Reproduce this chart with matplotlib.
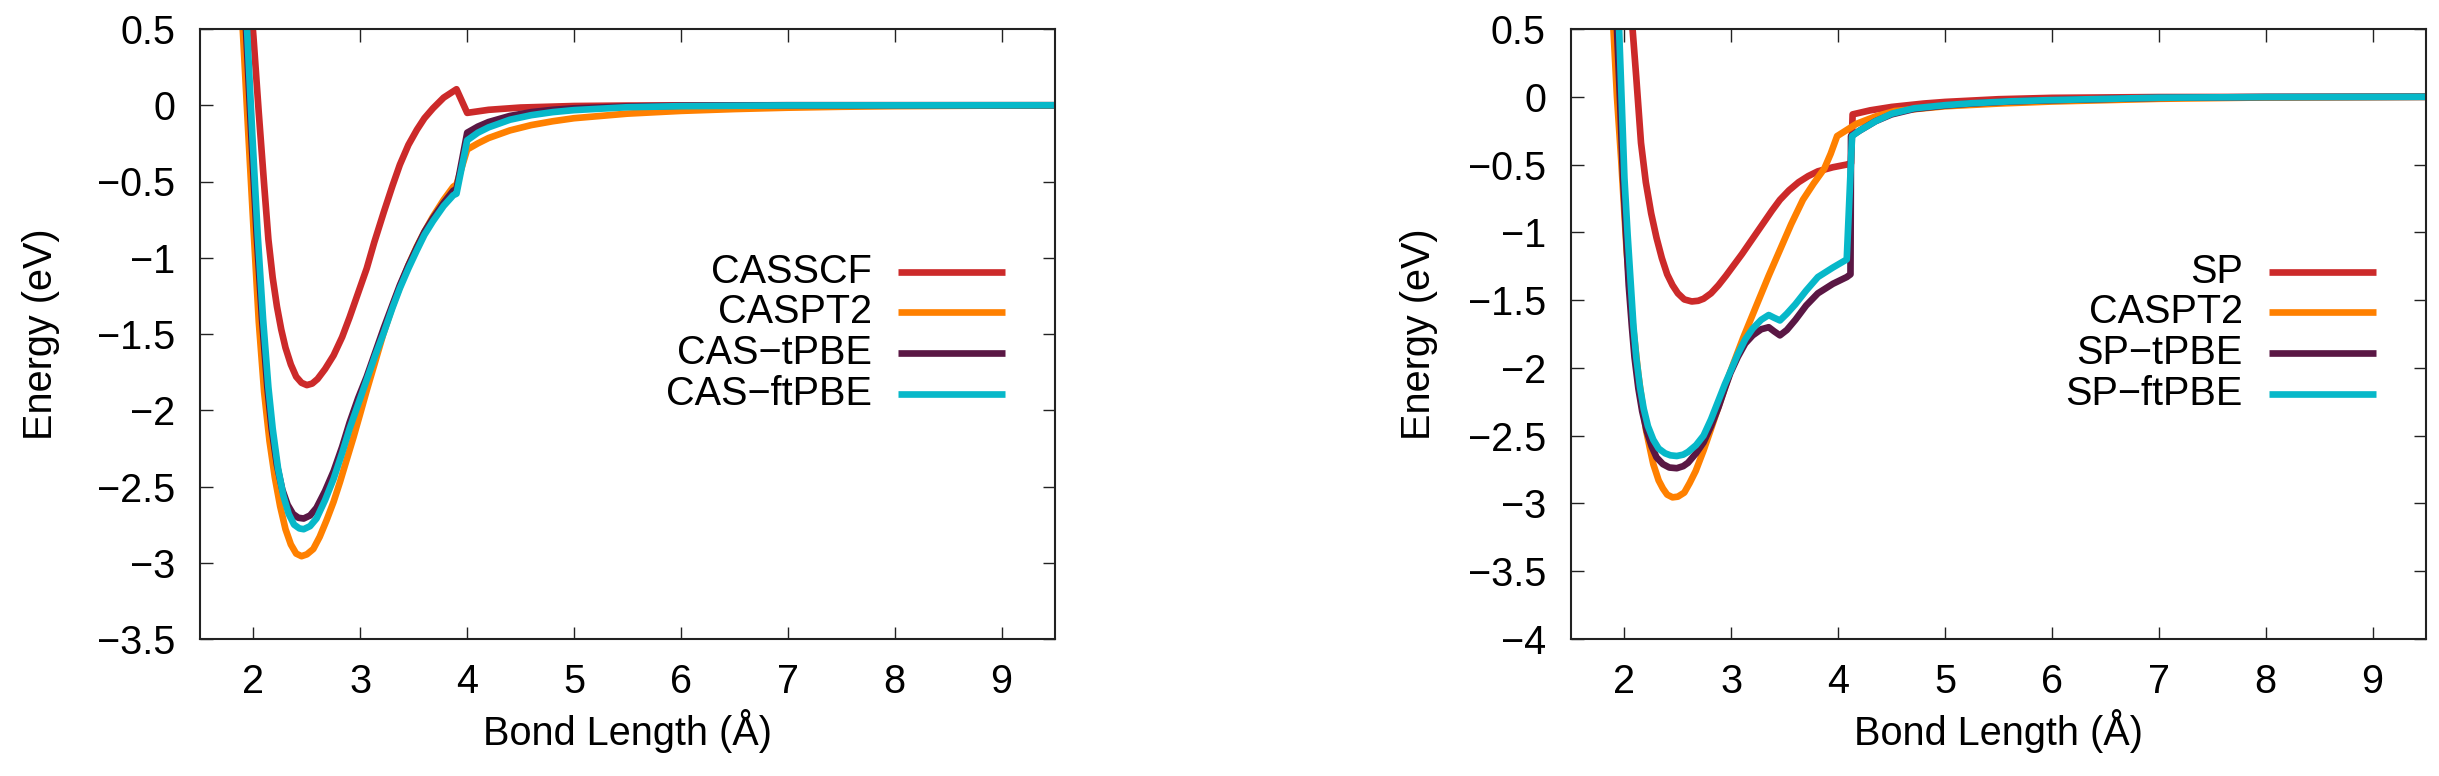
import matplotlib
matplotlib.use('Agg')
import matplotlib.pyplot as plt

plt.rcParams['font.family'] = ['Liberation Sans', 'DejaVu Sans']

# --- left panel: CAS based curves ---
casscf_x = [1.96, 2.0, 2.05, 2.1, 2.14, 2.18, 2.22, 2.26, 2.3, 2.35, 2.4, 2.45, 2.5, 2.55, 2.6,
            2.67, 2.75, 2.83, 2.9, 3.0, 3.06, 3.13, 3.22, 3.3, 3.37, 3.45, 3.53, 3.6, 3.68, 3.78,
            3.9, 4.0, 4.2, 4.5, 5.0, 5.5, 6.0, 7.0, 8.0, 9.0, 9.6]
casscf_y = [0.8, 0.45, -0.05, -0.52, -0.88, -1.13, -1.32, -1.47, -1.59, -1.70, -1.78, -1.82,
            -1.835, -1.825, -1.795, -1.73, -1.64, -1.52, -1.39, -1.19, -1.07, -0.90, -0.70,
            -0.53, -0.39, -0.26, -0.16, -0.085, -0.02, 0.05, 0.105, -0.05, -0.03, -0.015,
            -0.005, -0.002, -0.001, 0, 0, 0, 0]

caspt2_l_x = [1.88, 1.9, 1.95, 2.0, 2.05, 2.1, 2.15, 2.2, 2.25, 2.3, 2.35, 2.4, 2.45, 2.5, 2.56,
              2.62, 2.685, 2.75, 2.81, 2.87, 2.935, 3.0, 3.06, 3.14, 3.215, 3.3, 3.37, 3.45,
              3.527, 3.6, 3.68, 3.78, 3.87, 3.9, 4.0, 4.1, 4.2, 4.4, 4.6, 4.8, 5.0, 5.5, 6.0,
              6.5, 7.0, 7.5, 8.0, 9.0, 9.6]
caspt2_l_y = [1.0, 0.5, -0.16, -0.8, -1.42, -1.88, -2.2, -2.44, -2.63, -2.78, -2.88, -2.94,
              -2.957, -2.945, -2.91, -2.83, -2.72, -2.6, -2.47, -2.33, -2.18, -2.02, -1.87,
              -1.68, -1.50, -1.32, -1.19, -1.05, -0.93, -0.83, -0.73, -0.62, -0.534, -0.52,
              -0.29, -0.25, -0.215, -0.165, -0.13, -0.105, -0.085, -0.055, -0.037, -0.025,
              -0.016, -0.01, -0.006, -0.002, -0.001]

cas_tpbe_x = [1.91, 1.93, 1.98, 2.03, 2.08, 2.13, 2.17, 2.22, 2.27, 2.32, 2.37, 2.42, 2.47, 2.53,
              2.59, 2.67, 2.75, 2.83, 2.9, 2.98, 3.06, 3.14, 3.22, 3.3, 3.37, 3.45, 3.53, 3.6,
              3.68, 3.78, 3.87, 3.9, 4.0, 4.1, 4.2, 4.4, 4.6, 4.8, 5.0, 5.5, 6.0, 7.0, 9.6]
cas_tpbe_y = [1.0, 0.5, -0.2, -0.85, -1.4, -1.85, -2.12, -2.36, -2.52, -2.62, -2.68, -2.705,
              -2.71, -2.69, -2.64, -2.53, -2.40, -2.24, -2.08, -1.92, -1.78, -1.62, -1.46,
              -1.31, -1.18, -1.05, -0.93, -0.83, -0.74, -0.64, -0.56, -0.55, -0.18, -0.14,
              -0.11, -0.07, -0.045, -0.03, -0.02, -0.008, -0.003, 0, 0]

cas_ftpbe_x = [1.92, 1.94, 1.99, 2.04, 2.09, 2.14, 2.18, 2.23, 2.28, 2.33, 2.38, 2.43, 2.47, 2.53,
               2.59, 2.67, 2.75, 2.83, 2.9, 2.98, 3.06, 3.14, 3.22, 3.3, 3.37, 3.45, 3.53, 3.6,
               3.68, 3.78, 3.87, 3.9, 4.0, 4.1, 4.2, 4.4, 4.6, 4.8, 5.0, 5.5, 6.0, 7.0, 9.6]
cas_ftpbe_y = [1.0, 0.5, -0.2, -0.85, -1.4, -1.85, -2.12, -2.38, -2.56, -2.68, -2.75, -2.775,
               -2.78, -2.76, -2.71, -2.59, -2.45, -2.28, -2.12, -1.96, -1.80, -1.64, -1.49,
               -1.33, -1.20, -1.07, -0.95, -0.85, -0.76, -0.66, -0.59, -0.58, -0.23, -0.18,
               -0.145, -0.095, -0.065, -0.045, -0.032, -0.013, -0.006, -0.001, 0]

# --- right panel: SP based curves ---
sp_x = [2.06, 2.076, 2.11, 2.155, 2.2, 2.25, 2.3, 2.35, 2.4, 2.45, 2.5, 2.56, 2.63, 2.69, 2.74,
        2.81, 2.88, 2.95, 3.025, 3.1, 3.17, 3.24, 3.31, 3.38, 3.455, 3.54, 3.63, 3.72, 3.81,
        3.95, 4.08, 4.12, 4.135, 4.3, 4.5, 4.8, 5.0, 5.5, 6.0, 7.0, 9.6]
sp_y = [0.9, 0.5, 0.15, -0.34, -0.63, -0.86, -1.04, -1.19, -1.31, -1.39, -1.45, -1.495, -1.51,
        -1.505, -1.49, -1.45, -1.39, -1.32, -1.24, -1.16, -1.08, -1.0, -0.92, -0.84, -0.76,
        -0.69, -0.63, -0.585, -0.55, -0.52, -0.50, -0.49, -0.13, -0.1, -0.075, -0.05, -0.038,
        -0.018, -0.008, -0.002, 0]

caspt2_r_x = [1.88, 1.897, 1.93, 1.97, 2.02, 2.076, 2.13, 2.17, 2.2, 2.24, 2.27, 2.32, 2.36, 2.4,
              2.45, 2.5, 2.56, 2.61, 2.667, 2.74, 2.81, 2.9, 2.99, 3.11, 3.24, 3.35, 3.455, 3.56,
              3.67, 3.77, 3.87, 3.93, 3.99, 4.17, 4.35, 4.53, 5.0, 5.5, 6.0, 7.0, 8.0, 9.6]
caspt2_r_y = [1.0, 0.5, 0.0, -0.47, -1.13, -1.66, -2.05, -2.28, -2.45, -2.6, -2.71, -2.83, -2.89,
              -2.935, -2.955, -2.95, -2.92, -2.85, -2.76, -2.61, -2.45, -2.24, -2.03, -1.78,
              -1.53, -1.32, -1.13, -0.94, -0.76, -0.64, -0.53, -0.42, -0.29, -0.2, -0.145,
              -0.105, -0.07, -0.05, -0.035, -0.015, -0.005, 0]

sp_tpbe_x = [1.91, 1.93, 1.96, 1.987, 2.015, 2.04, 2.07, 2.094, 2.13, 2.166, 2.21, 2.255, 2.3,
             2.36, 2.42, 2.49, 2.55, 2.595, 2.67, 2.74, 2.81, 2.88, 2.94, 2.99, 3.06, 3.13, 3.2,
             3.28, 3.35, 3.4, 3.455, 3.52, 3.6, 3.7, 3.81, 3.95, 4.08, 4.115, 4.12, 4.2, 4.35,
             4.5, 4.71, 5.0, 5.245, 5.6, 5.96, 7.0, 8.0, 9.6]
sp_tpbe_y = [1.0, 0.5, -0.05, -0.6, -1.02, -1.39, -1.7, -1.92, -2.15, -2.32, -2.47, -2.58,
             -2.66, -2.71, -2.735, -2.74, -2.725, -2.70, -2.63, -2.55, -2.43, -2.29, -2.15,
             -2.04, -1.92, -1.82, -1.76, -1.715, -1.70, -1.73, -1.76, -1.72, -1.645, -1.54,
             -1.45, -1.38, -1.33, -1.31, -0.29, -0.25, -0.18, -0.13, -0.09, -0.065, -0.05,
             -0.035, -0.026, -0.008, -0.002, 0]

sp_ftpbe_x = [1.93, 1.95, 1.975, 2.0, 2.03, 2.06, 2.085, 2.11, 2.145, 2.18, 2.22, 2.27, 2.32,
              2.38, 2.43, 2.49, 2.55, 2.595, 2.67, 2.74, 2.81, 2.88, 2.94, 2.99, 3.06, 3.13,
              3.2, 3.28, 3.35, 3.4, 3.455, 3.52, 3.6, 3.7, 3.81, 3.95, 4.08, 4.13, 4.2, 4.35,
              4.5, 4.71, 5.0, 5.245, 5.6, 5.96, 7.0, 8.0, 9.6]
sp_ftpbe_y = [1.0, 0.5, -0.05, -0.6, -1.02, -1.39, -1.7, -1.92, -2.14, -2.3, -2.43, -2.53,
              -2.595, -2.63, -2.645, -2.65, -2.64, -2.62, -2.57, -2.5, -2.38, -2.24, -2.12,
              -2.03, -1.9, -1.79, -1.71, -1.645, -1.61, -1.63, -1.65, -1.6, -1.53, -1.43,
              -1.33, -1.26, -1.2, -0.29, -0.25, -0.18, -0.125, -0.085, -0.062, -0.048,
              -0.034, -0.025, -0.007, -0.002, 0]

left_labels = ['CASSCF', 'CASPT2', 'CAS\u2212tPBE', 'CAS\u2212ftPBE']
right_labels = ['SP', 'CASPT2', 'SP\u2212tPBE', 'SP\u2212ftPBE']
colors = ['#cc2a2a', '#ff8000', '#5a1744', '#07b8c9']

xticks = [2, 3, 4, 5, 6, 7, 8, 9]
xtick_labels = ['2', '3', '4', '5', '6', '7', '8', '9']
left_yticks = [-3.5, -3, -2.5, -2, -1.5, -1, -0.5, 0, 0.5]
left_ytick_labels = ['\u22123.5', '\u22123', '\u22122.5', '\u22122', '\u22121.5', '\u22121',
                     '\u22120.5', '0', '0.5']
right_yticks = [-4, -3.5, -3, -2.5, -2, -1.5, -1, -0.5, 0, 0.5]
right_ytick_labels = ['\u22124', '\u22123.5', '\u22123', '\u22122.5', '\u22122', '\u22121.5',
                      '\u22121', '\u22120.5', '0', '0.5']

FS = 28.5
LW = 4.8


def style_axes(ax, yticks, ylabels, ylim, ylab_x):
    ax.set_xlim(1.5, 9.5)
    ax.set_ylim(*ylim)
    ax.set_xticks(xticks)
    ax.set_xticklabels(xtick_labels)
    ax.set_yticks(yticks)
    ax.set_yticklabels(ylabels)
    ax.tick_params(direction='in', top=True, right=True, length=9, width=1.0,
                   labelsize=FS, color='#222222')
    ax.tick_params(axis='x', pad=17)
    ax.tick_params(axis='y', pad=18)
    for sp in ax.spines.values():
        sp.set_linewidth(1.5)
        sp.set_color('#222222')
    ax.set_xlabel('Bond Length (\u00c5)', fontsize=FS)
    ax.set_ylabel('Energy (eV)', fontsize=FS)
    ax.xaxis.set_label_coords(0.5, -0.115)
    ax.yaxis.set_label_coords(ylab_x, 0.5)


def key(ax, labels):
    rows = [0.6021, 0.5356, 0.4683, 0.4016]
    for lab, c, y in zip(labels, colors, rows):
        ax.plot([0.8164, 0.9415], [y, y], color=c, lw=LW, transform=ax.transAxes,
                solid_capstyle='butt')
        ax.text(0.7856, y, lab, transform=ax.transAxes, ha='right', va='center',
                fontsize=FS)


fig = plt.figure(figsize=(24.39, 7.76), dpi=100)
ax1 = fig.add_axes([200 / 2439, 137 / 776, 855 / 2439, 610 / 776])
ax2 = fig.add_axes([1571 / 2439, 137 / 776, 855 / 2439, 610 / 776])

left_series = [(casscf_x, casscf_y), (caspt2_l_x, caspt2_l_y),
               (cas_tpbe_x, cas_tpbe_y), (cas_ftpbe_x, cas_ftpbe_y)]
right_series = [(sp_x, sp_y), (caspt2_r_x, caspt2_r_y),
                (sp_tpbe_x, sp_tpbe_y), (sp_ftpbe_x, sp_ftpbe_y)]

# gnuplot draws in key order, so cyan ends up on top
for (x, y), c in zip(left_series, colors):
    ax1.plot(x, y, color=c, lw=LW, solid_joinstyle='round')
for (x, y), c in zip(right_series, colors):
    ax2.plot(x, y, color=c, lw=LW, solid_joinstyle='round')

style_axes(ax1, left_yticks, left_ytick_labels, (-3.5, 0.5), -0.1637)
style_axes(ax2, right_yticks, right_ytick_labels, (-4, 0.5), -0.1556)
key(ax1, left_labels)
key(ax2, right_labels)

fig.savefig('out.png', dpi=100)
